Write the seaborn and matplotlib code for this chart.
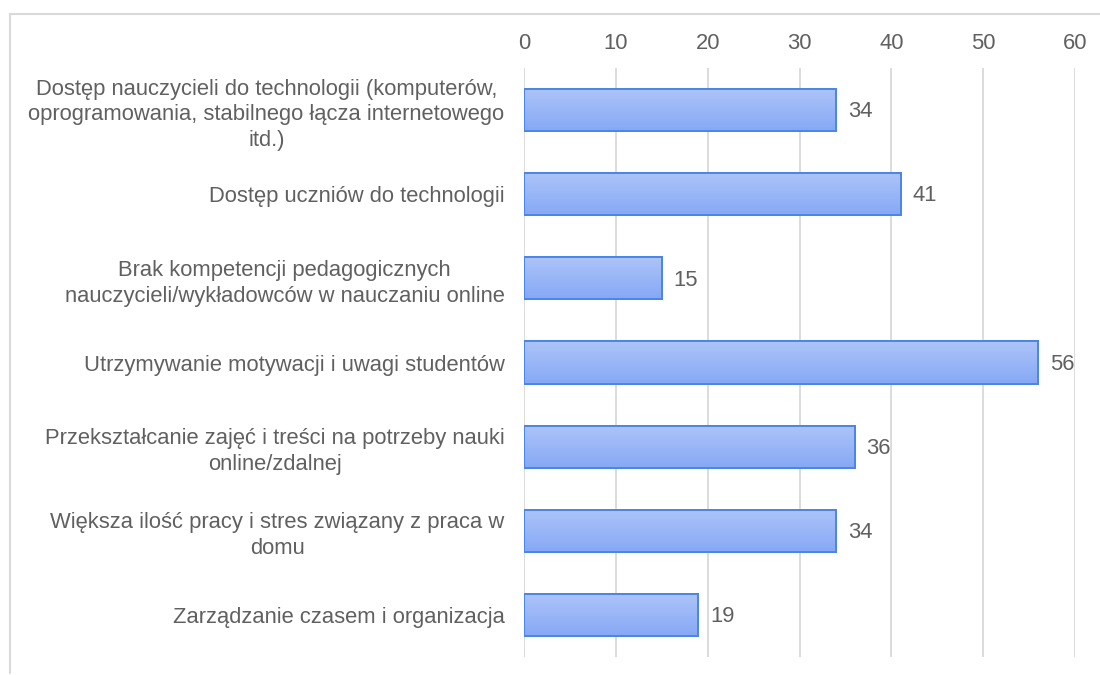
import numpy as np
import pandas as pd
import matplotlib
matplotlib.use("Agg")
import matplotlib.pyplot as plt
import seaborn as sns
from matplotlib.colors import LinearSegmentedColormap
from matplotlib.lines import Line2D

categories = [
    "Dostęp nauczycieli do technologii (komputerów,\noprogramowania, stabilnego łącza internetowego\nitd.)",
    "Dostęp uczniów do technologii",
    "Brak kompetencji pedagogicznych\nnauczycieli/wykładowców w nauczaniu online",
    "Utrzymywanie motywacji i uwagi studentów",
    "Przekształcanie zajęć i treści na potrzeby nauki\nonline/zdalnej",
    "Większa ilość pracy i stres związany z praca w\ndomu",
    "Zarządzanie czasem i organizacja",
]
values = [34, 41, 15, 56, 36, 34, 19]
x_ticks = [0, 10, 20, 30, 40, 50, 60]

df = pd.DataFrame({"kategoria": categories, "wartosc": values})

sns.set_theme(style="white")
plt.rcParams["font.family"] = ["Liberation Sans", "DejaVu Sans"]

text_color = "#606060"
fs = 15.8
fig = plt.figure(figsize=(11, 6.75), dpi=100)
ax = fig.add_axes([524 / 1100, 1 - 657 / 675, (1075 - 524) / 1100, (657 - 68) / 675])

sns.barplot(data=df, x="wartosc", y="kategoria", orient="h", width=0.5,
            color="#9bb6f6", edgecolor="#4a86e8", linewidth=1.4, ax=ax, zorder=3)

# vertical gradient fill inside each bar
grad = LinearSegmentedColormap.from_list("g", ["#adc4f8", "#86a8f5"])
for patch in ax.patches:
    x0, y0 = patch.get_x(), patch.get_y()
    w, h = patch.get_width(), patch.get_height()
    im = ax.imshow(np.linspace(0, 1, 64).reshape(-1, 1), cmap=grad, aspect="auto",
                   extent=[x0, x0 + w, y0 + h, y0], origin="upper", zorder=3.5)
    im.set_clip_path(patch)
    border = plt.Rectangle((x0, y0), w, h, fill=False, edgecolor="#4a86e8",
                           linewidth=1.4, zorder=4)
    ax.add_patch(border)

for i, v in enumerate(values):
    ax.text(v + 1.3, i + 0.02, str(v), va="center", ha="left", fontsize=fs,
            color=text_color, zorder=5)

ax.set_xlim(0, 60)
ax.set_ylim(len(categories) - 0.5, -0.5)
ax.set_xticks(x_ticks)
ax.xaxis.tick_top()
ax.xaxis.set_label_position("top")
ax.set_xlabel("")
ax.set_ylabel("")
ax.grid(axis="x", color="#d9d9d9", linewidth=1.3, zorder=0)
ax.set_axisbelow(True)
ax.tick_params(axis="x", length=0, pad=10, labelsize=fs, labelcolor=text_color)
ax.tick_params(axis="y", length=0, pad=14, labelsize=fs, labelcolor=text_color)
for lbl in ax.get_yticklabels():
    lbl.set_ha("right")
    lbl.set_multialignment("center")
    lbl.set_linespacing(1.3)
for s in ax.spines.values():
    s.set_visible(False)

# outer frame (top and left edges)
fig.add_artist(Line2D([10 / 1100, 1], [1 - 14 / 675, 1 - 14 / 675],
                      transform=fig.transFigure, color="#d9d9d9", linewidth=1.5))
fig.add_artist(Line2D([10 / 1100, 10 / 1100], [1 - 14 / 675, 1 - 673 / 675],
                      transform=fig.transFigure, color="#d9d9d9", linewidth=1.5))

fig.savefig("out.png", dpi=100, facecolor="white")
